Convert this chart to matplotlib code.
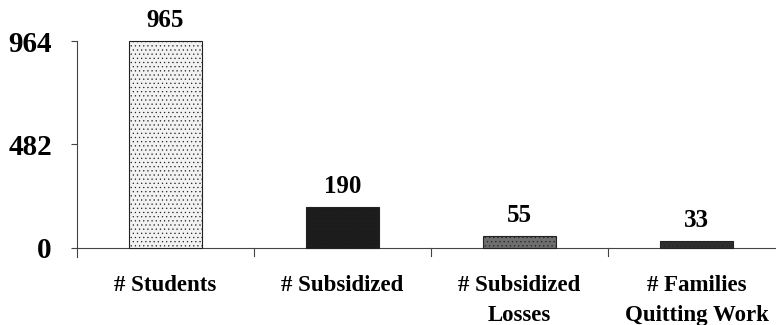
import matplotlib.pyplot as plt

categories = ['# Students', '# Subsidized', '# Subsidized\nLosses', '# Families\nQuitting Work']
counts = [965, 190, 55, 33]
yticks = [0, 482, 964]
bar_colors = ['#f2f2f2', '#1c1c1c', '#6e6e6e', '#2e2e2e']
dot_colors = ['#b8b8b8', '#5a5a5a', '#9a9a9a', '#4a4a4a']

plt.rcParams['font.family'] = ['Liberation Serif', 'DejaVu Serif']
plt.rcParams['font.weight'] = 'bold'
plt.rcParams['hatch.linewidth'] = 0.4

fig = plt.figure(figsize=(7.76, 3.25), dpi=100)
# axes run a little past the right edge so the last category is cut off
ax = fig.add_axes([77 / 776, 1 - 257 / 325, 708 / 776, 216 / 325])

for i, (v, fc, hc) in enumerate(zip(counts, bar_colors, dot_colors)):
    plt.rcParams['hatch.color'] = hc
    ax.bar(i, v, width=0.41, color=fc, edgecolor='#222222', linewidth=0.8,
           hatch='....', clip_on=False, zorder=2)
    ax.text(i, v + 42, str(v), ha='center', va='bottom', fontsize=18,
            fontweight='bold')

ax.set_xlim(-0.5, 3.5)
ax.set_ylim(-42, 964)
ax.set_yticks(yticks)
ax.set_yticklabels([str(t) for t in yticks], fontsize=21, fontweight='bold')
ax.tick_params(axis='y', length=4, width=0.8, pad=14, color='#444444')

# category separators hang below the zero line
ax.set_xticks([0.5, 1.5, 2.5])
ax.set_xticklabels([])
ax.tick_params(axis='x', length=0)
for s in [0.5, 1.5, 2.5]:
    ax.plot([s, s], [0, -38], color='#444444', lw=0.8, clip_on=False)
for i, c in enumerate(categories):
    ax.text(i, -125, c, ha='center', va='top', fontsize=16.5, fontweight='bold',
            linespacing=1.55)

ax.axhline(0, color='#444444', lw=0.8, zorder=1)
for side in ['top', 'right', 'bottom']:
    ax.spines[side].set_visible(False)
ax.spines['left'].set_color('#444444')
ax.spines['left'].set_linewidth(0.8)

fig.savefig('out.png', dpi=100)
